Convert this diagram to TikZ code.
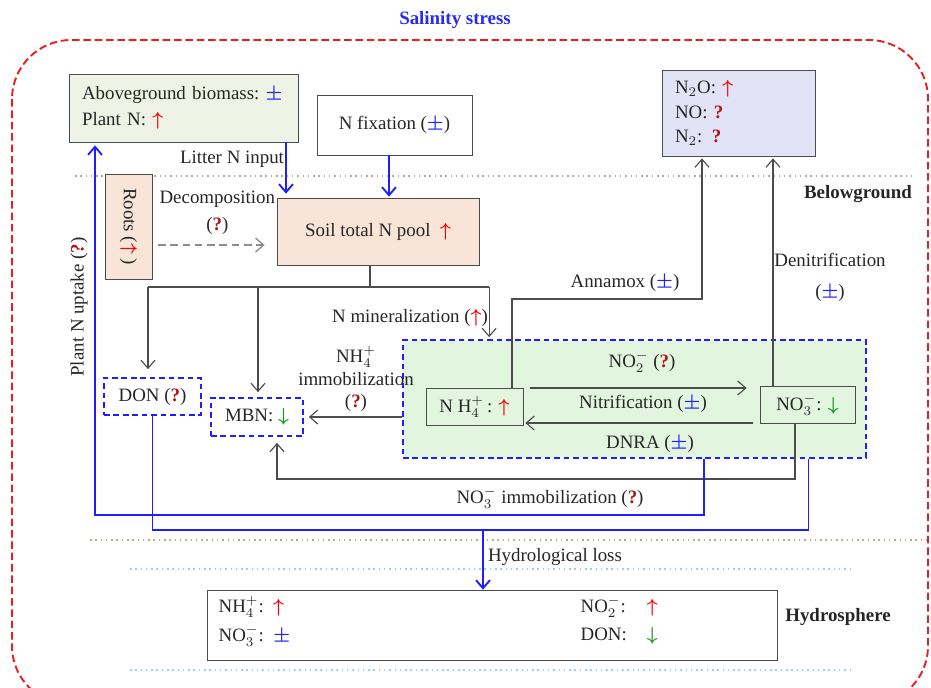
\documentclass[tikz,border=0pt]{standalone}
\usepackage{amsmath,amssymb}
\usepackage{fontspec}
\setmainfont{Liberation Serif}
\usepackage{tikz}
\usetikzlibrary{arrows.meta,positioning}
\usepackage{xcolor}

\definecolor{nblue}{HTML}{1E1EFF}
\definecolor{titleblue}{HTML}{2A2AF0}
\definecolor{qred}{HTML}{B01515}
\definecolor{arrgreen}{HTML}{129A12}
\definecolor{abovefill}{HTML}{EEF3E6}
\definecolor{gasfill}{HTML}{E3E3F8}
\definecolor{soilfill}{HTML}{F8E5D8}
\definecolor{poolfill}{HTML}{E2F6DF}
\definecolor{sepgray}{HTML}{B5AC8A}
\definecolor{waterblue}{HTML}{9DCDF0}
\definecolor{borderred}{HTML}{EE1C1C}

\newcommand{\pu}{0.0186cm}
\newcommand{\upR}{\textcolor{red}{$\boldsymbol{\uparrow}$}}
\newcommand{\downG}{\textcolor{arrgreen}{$\boldsymbol{\downarrow}$}}
\newcommand{\pmB}{\textcolor{nblue}{$\boldsymbol{\pm}$}}
\newcommand{\qR}{\textcolor{qred}{\textbf{?}}}

\begin{document}
\begin{tikzpicture}[x=0.0186cm, y=-0.0186cm,
	every node/.style={text=black!85},
	box/.style={draw=black!70, rectangle, inner sep=0pt},
	dbox/.style={draw=nblue, line width=0.9pt, dash pattern=on 3pt off 2pt, rectangle, inner sep=0pt},
	flow/.style={draw=black!70, line width=0.6pt, -{Straight Barb[length=1.5mm,width=2.6mm]}},
	dflow/.style={draw=black!45, line width=0.7pt, dash pattern=on 4pt off 2.5pt, -{Straight Barb[length=1.5mm,width=2.6mm]}},
	gline/.style={draw=black!70, line width=0.6pt},
	bline/.style={draw=nblue, line width=1pt},
	bflow/.style={bline, -{Straight Barb[length=1.5mm,width=2.6mm]}},
	sep/.style={draw=sepgray, dotted, line width=0.8pt},
	wsep/.style={draw=waterblue, dotted, line width=0.8pt}]
	\useasboundingbox (0,0) rectangle (931,687);
	\clip (0,0) rectangle (931,687);

	\node[font=\bfseries, text=titleblue] (title) at (455,20) {Salinity stress};
	\draw[borderred, line width=1pt, dash pattern=on 4pt off 2pt, rounded corners=1.1cm] (12,40) rectangle (928,705);

	% separators
	\draw[sep] (75,176) -- (915,176);
	\draw[sep] (90,540) -- (931,540);
	\draw[wsep] (130,569) -- (850,569);
	\draw[wsep] (130,670) -- (850,670);

	% pools
	\node[box, fill=abovefill, minimum width=229*\pu, minimum height=68*\pu, text width=203*\pu, align=left] (above) at (183.5,108) {\mbox{Aboveground biomass:~\pmB}\\[2pt]Plant N: \upR};
	\node[box, minimum width=155*\pu, minimum height=60*\pu] (nfix) at (394.5,125) {N fixation (\pmB)};
	\node[box, fill=gasfill, minimum width=153*\pu, minimum height=86*\pu, text width=127*\pu, align=left] (gas) at (738.5,113) {N$_2$O: \upR\\[1pt]NO: \qR\\[1pt]N$_2$: \qR};
	\node[box, fill=soilfill, rotate=-90, minimum width=105*\pu, minimum height=47*\pu] (roots) at (128.5,226.5) {Roots (\upR\ )};
	\node[box, fill=soilfill, minimum width=202*\pu, minimum height=67*\pu] (soil) at (378,231.5) {Soil total N pool\enspace\upR};
	\node[dbox, minimum width=97*\pu, minimum height=37*\pu] (don) at (152.5,396.5) {DON (\qR)};
	\node[dbox, minimum width=92*\pu, minimum height=38*\pu] (mbn) at (257,417) {MBN: \downG};
	\node[dbox, fill=poolfill, minimum width=463*\pu, minimum height=118*\pu] (pool) at (634.5,399) {};
	\node[box, fill=poolfill, minimum width=97*\pu, minimum height=37*\pu] (nh4) at (474.5,406.5) {N H$_4^+$\,: \upR};
	\node[box, fill=poolfill, minimum width=95*\pu, minimum height=37*\pu] (no3) at (807.5,404.5) {NO$_3^-$: \downG};
	\node[box, minimum width=570*\pu, minimum height=70*\pu] (hydro) at (492,625) {};
	\node[anchor=west] (hnh4) at (212,607) {NH$_4^+$:\enspace\upR};
	\node[anchor=west] (hno3) at (212,636) {NO$_3^-$:\enspace\pmB};
	\node[anchor=west] (hno2) at (574,607) {\makebox[3.5em][l]{NO$_2^-$:}\upR};
	\node[anchor=west] (hdon) at (574,636) {\makebox[3.5em][l]{DON:}\downG};

	% labels
	\node (litter) at (232,159) {Litter N input};
	\node[font=\bfseries] (belowlbl) at (858,194) {Belowground};
	\node[font=\bfseries] (hydrolbl) at (838,617) {Hydrosphere};
	\node[rotate=90] (uptake) at (79,307) {Plant N uptake (\qR)};
	\node (minlbl) at (410,318) {N mineralization (\upR)};
	\node[align=center] (immlbl) at (356,379) {NH$_4^+$\\immobilization\\(\qR)};
	\node (anlbl) at (625,283) {Annamox (\pmB)};
	\node[align=center] (denlbl) at (830,277) {Denitrification\\[4.5pt](\pmB)};
	\node (no2lbl) at (642,362) {NO$_2^-$ (\qR)};
	\node (nitlbl) at (643,404) {Nitrification (\pmB)};
	\node (dnralbl) at (650,444) {DNRA (\pmB)};
	\node (imm3lbl) at (550,498) {NO$_3^-$ immobilization (\qR)};
	\node (losslbl) at (555,557) {Hydrological loss};

	% level coordinates
	\coordinate (lvM) at (0,287);
	\coordinate (lvC) at (0,299);
	\coordinate (lvD) at (0,479);
	\coordinate (lvA) at (0,515);
	\coordinate (lvB) at (0,530);

	% inputs
	\coordinate (litS) at ([xshift=102.5*\pu]above.south);
	\draw[bflow, shorten >=4*\pu] (litS) -- (litS |- soil.north);
	\coordinate (fixS) at ([xshift=-5.5*\pu]nfix.south);
	\draw[bflow, shorten >=1*\pu] (fixS) -- (fixS |- soil.north);
	\coordinate (decS) at ([xshift=29.5*\pu,yshift=-18.5*\pu]roots.center);
	\draw[dflow, shorten >=12*\pu] (decS) -- (decS -| soil.west) node[midway, above=2pt, align=center] {Decomposition\\[2pt](\qR)};

	% mineralization
	\coordinate (soilB) at ([xshift=-8*\pu]soil.south);
	\coordinate (donT) at ([xshift=-4.5*\pu]don.north);
	\coordinate (mbnT) at ([xshift=1*\pu]mbn.north);
	\coordinate (poolT) at ([xshift=87*\pu]pool.north west);
	\draw[gline] (soilB) -- (soilB |- lvM);
	\draw[gline] (donT |- lvM) -- (poolT |- lvM);
	\draw[flow, shorten >=8*\pu] (donT |- lvM) -- (donT);
	\draw[flow, shorten >=5*\pu] (mbnT |- lvM) -- (mbnT);
	\draw[flow, shorten >=2*\pu] (poolT |- lvM) -- (poolT);
	\draw[flow, shorten >=5*\pu] (pool.west |- mbn.east) -- (mbn.east);

	% nitrification, DNRA
	\coordinate (nitS) at ([xshift=7*\pu,yshift=18.5*\pu]nh4.east);
	\draw[flow, shorten >=13*\pu] (nitS) -- (nitS -| no3.west);
	\coordinate (dnrS) at ([xshift=-7*\pu,yshift=-18.5*\pu]no3.west);
	\draw[flow, shorten >=2*\pu] (dnrS) -- (dnrS -| nh4.east);

	% gaseous losses
	\coordinate (anS) at ([xshift=37.5*\pu]nh4.north);
	\coordinate (anE) at ([xshift=-36.5*\pu]gas.south);
	\draw[flow, shorten >=2*\pu] (anS) -- (anS |- lvC) -| (anE);
	\coordinate (denS) at ([xshift=-34.5*\pu]no3.north);
	\draw[flow, shorten >=2*\pu] (denS) -- (denS |- gas.south);

	% NO3 immobilization
	\coordinate (imS) at ([xshift=-12.5*\pu]no3.south);
	\coordinate (imE) at ([xshift=20*\pu]mbn.south);
	\draw[flow, shorten >=6*\pu] (imS) -- (imS |- lvD) -| (imE);

	% plant uptake and hydrological loss
	\coordinate (upS) at ([xshift=69.5*\pu]pool.south);
	\coordinate (upE) at ([xshift=-88.5*\pu]above.south);
	\draw[bflow, shorten >=3*\pu] (upS) -- (upS |- lvA) -| (upE);
	\coordinate (hyS) at ([xshift=174*\pu]pool.south);
	\draw[bline] (don.south) -- (don.south |- lvB) -| (hyS);
	\coordinate (hyT) at ([xshift=-9*\pu]hydro.north);
	\draw[bflow] (hyT |- lvB) -- (hyT);
\end{tikzpicture}
\end{document}
